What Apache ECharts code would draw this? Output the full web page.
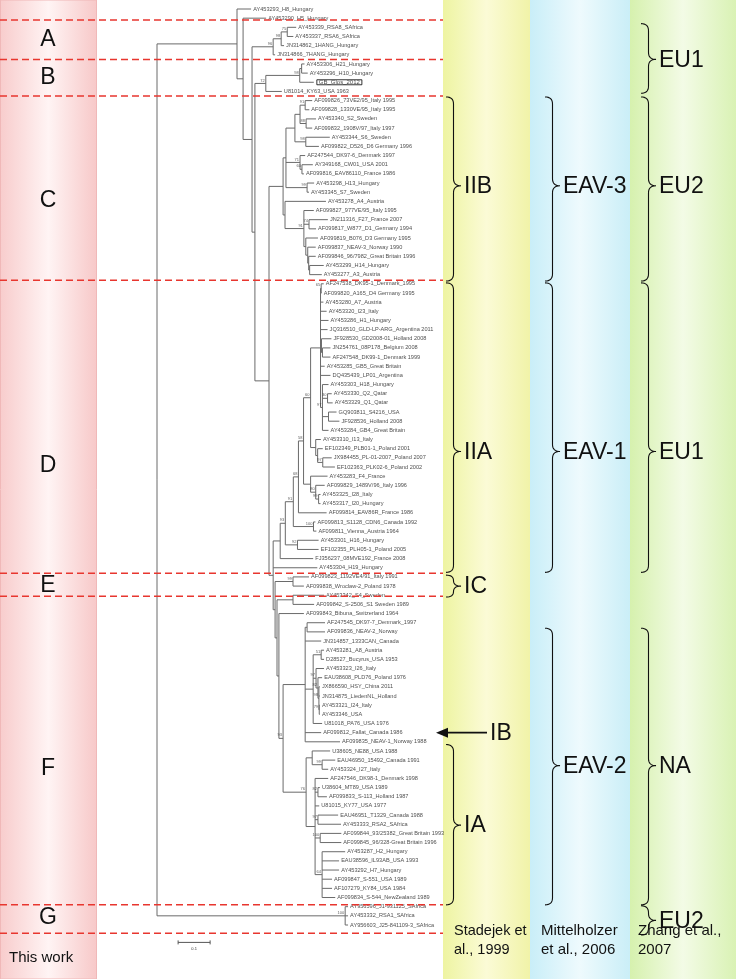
<!DOCTYPE html>
<html><head><meta charset="utf-8">
<script src="https://cdn.jsdelivr.net/npm/echarts@6/dist/echarts.min.js"></script>
<style>html,body{margin:0;padding:0;background:#fff}#c{width:736px;height:979px}</style>
</head><body><div id="c"></div>
<script>
// ---------------- DATA ----------------
// Tree (Newick, branch lengths in substitutions/site, internal labels = bootstrap)
const cladeG = "(AY956596_J1-931125_SAfrica:0.009,AY453332_RSA1_SAfrica:0.009,AY956603_J25-841109-3_SAfrica:0.009)100:0.588";
const cladeA = "(((AY453339_RSA8_SAfrica:0.028,AY453337_RSA6_SAfrica:0.019)75:0.019,JN314862_1HANG_Hungary:0.009)98:0.025,JN314866_7HANG_Hungary:0.006)96:0.066";
const cladeB = "(((AY453306_H21_Hungary:0.009,AY453296_H10_Hungary:0.019):0.006,GB_Glos_2012:0.044)98:0.106,U81014_KY63_USA 1963:0.050)72:0.034";
const cladeC1 = "((((AF099826_73VE2/95_Italy 1995:0.022,AF099828_1330VE/95_Italy 1995:0.013)91:0.016,(AY453340_S2_Sweden:0.031,AF099832_1908V/97_Italy 1997:0.019)88:0.019):0.016,(AY453344_S6_Sweden:0.075,AF099822_D526_D6 Germany 1996:0.041)98:0.034):0.028,(AF247544_DK97-6_Denmark 1997:0.016,(AY349168_CW01_USA 2001:0.034,AF099816_EAV86110_France 1986:0.006)60:0.006)71:0.044,(AY453298_H13_Hungary:0.022,AY453345_S7_Sweden:0.006)99:0.066):0.009";
const cladeC2 = "(AY453278_A4_Austria:0.128,(AF099827_977VE/95_Italy 1995:0.031,(JN211316_F27_France 2007:0.059,AF099817_W877_D1_Germany 1994:0.022)74:0.016,(AF099819_B076_D3 Germany 1995:0.038,(AF099837_NEAV-3_Norway 1990:0.025,(AF099846_96/7982_Great Britain 1996:0.022,(AY453299_H14_Hungary:0.044,AY453277_A3_Austria:0.038):0.003):0.003):0.006):0.006)91:0.059):0.006";
const cladeD5 = "((AF247538_DK95-1_Denmark_1995:0.008,AF099820_A165_D4 Germany 1995:0.002)65:0.002,AY453280_A7_Austria:0.009,AY453320_I23_Italy:0.019,AY453286_H1_Hungary:0.025,JQ316510_GLD-LP-ARG_Argentina 2011:0.022,(JF928530_GD2008-01_Holland 2008:0.031,(JN254761_08P178_Belgium 2008:0.025,AF247548_DK99-1_Denmark 1999:0.025):0.003):0.003,AY453285_GB5_Great Britain:0.013,DQ435439_LP01_Argentina:0.031,(AY453303_H18_Hungary:0.019,(AY453330_Q2_Qatar:0.013,AY453329_Q1_Qatar:0.016)30:0.016,(GQ903811_S4216_USA:0.025,JF928536_Holland 2008:0.034):0.019,AY453284_GB4_Great Britain:0.019)97:0.006):0.031";
const cladeD6 = "(AY453310_I13_Italy:0.016,(EF102349_PLB01-1_Poland 2001:0.016,(JX984455_PL-01-2007_Poland 2007:0.028,EF102363_PLK02-6_Poland 2002:0.038)97:0.016):0.006):0.016";
const cladeD7 = "(AY453283_F4_France:0.053,(AF099829_1489V/96_Italy 1996:0.028,(AY453325_I28_Italy:0.006,AY453317_I20_Hungary:0.006)99:0.009)80:0.016):0.022";
const cladeE = "(AF099823_1192VE4/91_Italy 1991:0.050,AF099838_Wroclaw-2_Poland 1978:0.034)99:0.056";
const cladeFe = "((AY453281_A8_Austria:0.009,D28527_Bucyrus_USA 1953:0.009)51:0.025,(AY453323_I26_Italy:0.025,(EAU38608_PLD76_Poland 1976:0.013,(JX866590_HSY_China 2011:0.003,JN314875_LiedenNL_Holland:0.003,(AY453321_I24_Italy:0.002,AY453346_USA:0.002)79:0.001)98:0.003)82:0.006)97:0.009,U81018_PA76_USA 1976:0.028):0.025";
const cladeFj = "(U38605_NE88_USA 1988:0.056,(EAU46950_15492_Canada 1991:0.041,AY453324_I27_Italy:0.019)99:0.031):0.019";
const cladeFl = "(AF247546_DK98-1_Denmark 1998:0.041,(U38604_MT89_USA 1989:0.006,AF099833_S-113_Holland 1987:0.028)82:0.009,U81015_KY77_USA 1977:0.013,(EAU46951_T1329_Canada 1988:0.063,AY453333_RSA2_SAfrica:0.072)97:0.009,(AF099844_93/25382_Great Britain 1993:0.066,AF099845_96/328-Great Britain 1996:0.066)100:0.016,(AY453287_H2_Hungary:0.072,EAU38596_IL93AB_USA 1993:0.053,AY453292_H7_Hungary:0.053,AF099847_S-551_USA 1989:0.031,AF107279_KY84_USA 1984:0.031,AF099834_S-544_NewZealand 1989:0.041)64:0.022):0.028";

const boxedLeaf = "GB_Glos_2012";
const arrowLeaf = "AF099812_Fallat_Canada 1986";

// Group separators / labels (positions in leaf-row units)
const separatorRows = [1.2, 5.5, 9.5, 29.6, 61.6, 64.1, 97.8, 100.9];
const groupLetters = ['A', 'B', 'C', 'D', 'E', 'F', 'G'];
const groupLetterRows = [3.4, 7.5, 20.9, 49.9, 63.0, 82.9, 99.2];

// Previous classifications: [startRow, endRow, tipRow]
const stadejekLabels = ['IIB', 'IIA', 'IC', 'IA'];
const stadejekSpans = [[9.6, 29.7, 19.3], [29.9, 61.5, 48.3], [61.8, 64.2, 63.0], [80.3, 97.8, 89.1]];
const mittelholzerLabels = ['EAV-3', 'EAV-1', 'EAV-2'];
const mittelholzerSpans = [[9.6, 29.7, 19.3], [29.9, 61.5, 48.3], [67.6, 97.8, 82.6]];
const zhangLabels = ['EU1', 'EU2', 'EU1', 'NA', 'EU2'];
const zhangSpans = [[1.6, 9.2, 5.5], [9.6, 29.7, 19.3], [29.9, 61.5, 48.3], [67.6, 97.8, 82.6], [97.9, 101.1, 99.5]];
const arrowLabel = 'IB';
const scaleBarLength = 0.1;
const scaleBarLabel = '0.1';

// ---------------- BUILD ----------------
const treeNewick = "((AY453293_H8_Hungary:0.044,(AY453290_H5_Hungary:0.072,(" + cladeA + ",(" + cladeB + ",((" + cladeC1 + "," + cladeC2 + "):0.044,(" +
  "((((((" + cladeD5 + "," + cladeD6 + ")60:0.022," + cladeD7 + ")58:0.016,AF099814_EAV86R_France 1986:0.088)68:0.016,(AF099813_S1128_CDN6_Canada 1992:0.006,AF099811_Vienna_Austria 1964:0.009)100:0.063)91:0.025,(AY453301_H16_Hungary:0.066,EF102355_PLH05-1_Poland 2005:0.066)92:0.038)93:0.016,FJ356237_08MVE192_France 2008:0.103):0.022" +
  ",AY453304_H19_Hungary:0.138,(" + cladeE + ",((AY453342_S4_Sweden:0.097,AF099842_S-2506_S1 Sweden 1989:0.066):0.050,(AF099843_Bibuna_Switzerland 1964:0.078,(" +
  "((AF247545_DK97-7_Denmark_1997:0.056,AF099836_NEAV-2_Norway:0.056):0.006,JN314857_1333CAN_Canada:0.050," + cladeFe + ",AF099812_Fallat_Canada 1986:0.050,AF099835_NEAV-1_Norway 1988:0.109):0.069" +
  ",(" + cladeFj + "," + cladeFl + ")76:0.072)93:0.013):0.006):0.006):0.006):0.013):0.044):0.009):0.028):0.019):0.250," + cladeG + ");";

function parseNewick(s) {
  let i = 0;
  function node() {
    const n = { children: [], name: '', len: 0 };
    if (s[i] === '(') {
      i++;
      n.children.push(node());
      while (s[i] === ',') { i++; n.children.push(node()); }
      i++; // ')'
    }
    let name = '';
    while (i < s.length && ',):;'.indexOf(s[i]) < 0) name += s[i++];
    n.name = name.trim();
    if (s[i] === ':') {
      i++; let num = '';
      while (i < s.length && ',);'.indexOf(s[i]) < 0) num += s[i++];
      n.len = parseFloat(num);
    }
    return n;
  }
  return node();
}
const root = parseNewick(treeNewick);
const leaves = [], internals = [], segments = [];
let leafCounter = 0;
(function layout(n, px) {
  n.x = px + n.len;
  if (!n.children.length) { n.y = leafCounter++; leaves.push(n); }
  else {
    n.children.forEach(c => layout(c, n.x));
    n.y = (n.children[0].y + n.children[n.children.length - 1].y) / 2;
    internals.push(n);
    segments.push([n.x, n.children[0].y, n.x, n.children[n.children.length - 1].y]);
  }
  if (n !== root) segments.push([px, n.y, n.x, n.y]);
})(root, 0);

// ---------------- LAYOUT CONSTANTS ----------------
const W = 736, H = 979;
const PX_ROOT = 157, PX_PER_UNIT = 320, ROW_TOP = 9, ROW_BOTTOM = 925;
const FONT = "'Liberation Sans', Arial, sans-serif";
const SEP_RIGHT = 443;

function bracePoints(x0, w, y1, y2, yt) {
  const pts = [];
  const xm = x0 + w / 2;
  const r = Math.min(7, Math.abs(yt - y1) / 2, Math.abs(y2 - yt) / 2);
  function quad(p0, p1, p2) {
    for (let k = 0; k <= 8; k++) {
      const t = k / 8;
      pts.push([(1 - t) * (1 - t) * p0[0] + 2 * (1 - t) * t * p1[0] + t * t * p2[0],
                (1 - t) * (1 - t) * p0[1] + 2 * (1 - t) * t * p1[1] + t * t * p2[1]]);
    }
  }
  quad([x0, y1], [xm, y1], [xm, y1 + r]);
  pts.push([xm, yt - r]);
  quad([xm, yt - r], [xm, yt], [x0 + w, yt]);
  quad([x0 + w, yt], [xm, yt], [xm, yt + r]);
  pts.push([xm, y2 - r]);
  quad([xm, y2 - r], [xm, y2], [x0, y2]);
  return pts;
}

function braceSeries(spans, labels, x0, fontSize) {
  return {
    type: 'custom', silent: true, z: 5,
    data: spans.map((s, k) => [0, s[0], s[1], s[2], k]),
    encode: { x: 0, y: [1, 2] },
    renderItem: function (params, api) {
      const y1 = api.coord([0, api.value(1)])[1];
      const y2 = api.coord([0, api.value(2)])[1];
      const yt = api.coord([0, api.value(3)])[1];
      const lab = labels[api.value(4)];
      return {
        type: 'group', children: [
          { type: 'polyline', shape: { points: bracePoints(x0, 15, y1, y2, yt) }, style: { stroke: '#111', lineWidth: 1.1, fill: null } },
          { type: 'text', style: { text: lab, x: x0 + 18, y: yt + 1, font: fontSize + 'px ' + FONT, fill: '#111', textAlign: 'left', textVerticalAlign: 'middle', align: 'left', verticalAlign: 'middle' } }
        ]
      };
    }
  };
}

const arrowRow = leaves.find(l => l.name === arrowLeaf).y;

const option = {
  animation: false,
  backgroundColor: '#fff',
  grid: { left: 0, right: 0, top: ROW_TOP, bottom: H - ROW_BOTTOM },
  xAxis: { type: 'value', min: -PX_ROOT / PX_PER_UNIT, max: (W - PX_ROOT) / PX_PER_UNIT, show: false },
  yAxis: { type: 'value', min: 0, max: 100, inverse: true, show: false },
  graphic: [
    { type: 'rect', z: -10, shape: { x: 0.5, y: 0, width: 96, height: 979 },
      style: { fill: new echarts.graphic.LinearGradient(0, 0, 1, 0, [{ offset: 0, color: '#f8cccc' }, { offset: 0.5, color: '#fff4f4' }, { offset: 1, color: '#f7c8c8' }]), stroke: '#f0b8b8', lineWidth: 1 } },
    { type: 'rect', z: -10, shape: { x: 443, y: 0, width: 87, height: 979 },
      style: { fill: new echarts.graphic.LinearGradient(0, 0, 1, 0, [{ offset: 0, color: '#eef4a2' }, { offset: 0.5, color: '#fbfbd6' }, { offset: 1, color: '#f1f3a8' }]) } },
    { type: 'rect', z: -10, shape: { x: 530, y: 0, width: 100, height: 979 },
      style: { fill: new echarts.graphic.LinearGradient(0, 0, 1, 0, [{ offset: 0, color: '#c9eef8' }, { offset: 0.5, color: '#eefafd' }, { offset: 1, color: '#caeef7' }]) } },
    { type: 'rect', z: -10, shape: { x: 630, y: 0, width: 106, height: 979 },
      style: { fill: new echarts.graphic.LinearGradient(0, 0, 1, 0, [{ offset: 0, color: '#d6f1ae' }, { offset: 0.5, color: '#f3fbe6' }, { offset: 1, color: '#d9f2b4' }]) } },
    { type: 'text', z: 10, style: { text: 'This work', x: 9, y: 958, font: '15px ' + FONT, fill: '#111', textVerticalAlign: 'middle', verticalAlign: 'middle' } },
    { type: 'text', z: 10, style: { text: 'Stadejek et\nal., 1999', x: 454, y: 940, font: '14.5px ' + FONT, lineHeight: 19, fill: '#111', textVerticalAlign: 'middle', verticalAlign: 'middle' } },
    { type: 'text', z: 10, style: { text: 'Mittelholzer\net al., 2006', x: 541, y: 940, font: '15px ' + FONT, lineHeight: 19, fill: '#111', textVerticalAlign: 'middle', verticalAlign: 'middle' } },
    { type: 'text', z: 10, style: { text: 'Zhang et al.,\n2007', x: 638, y: 940, font: '15px ' + FONT, lineHeight: 19, fill: '#111', textVerticalAlign: 'middle', verticalAlign: 'middle' } }
  ],
  series: [
    { // branches
      type: 'custom', silent: true, z: 3,
      data: segments, encode: { x: [0, 2], y: [1, 3] },
      renderItem: function (params, api) {
        const p1 = api.coord([api.value(0), api.value(1)]);
        const p2 = api.coord([api.value(2), api.value(3)]);
        return { type: 'line', shape: { x1: p1[0], y1: p1[1], x2: p2[0], y2: p2[1] }, style: { stroke: '#6a6a6a', lineWidth: 1 } };
      }
    },
    { // leaf labels
      type: 'scatter', silent: true, z: 4, symbolSize: 0.1, itemStyle: { color: 'rgba(0,0,0,0)' },
      data: leaves.map(l => {
        const d = { name: l.name, value: [l.x, l.y] };
        if (l.name === boxedLeaf) d.label = { borderColor: '#000', borderWidth: 1, padding: [0, 2, -1, 2], fontSize: 6, distance: 3 };
        return d;
      }),
      label: { show: true, position: 'right', distance: 2, formatter: '{b}', fontSize: 5.6, fontFamily: FONT, color: '#222' }
    },
    { // bootstrap values
      type: 'scatter', silent: true, z: 4, symbolSize: 0.1, itemStyle: { color: 'rgba(0,0,0,0)' },
      data: internals.filter(n => n.name).map(n => ({ name: n.name, value: [n.x, n.y] })),
      label: { show: true, position: 'left', distance: 1, offset: [0, -3], formatter: '{b}', fontSize: 4, fontFamily: FONT, color: '#333' }
    },
    { // group separators
      type: 'custom', silent: true, z: 6,
      data: separatorRows.map(r => [0, r]), encode: { x: 0, y: 1 },
      renderItem: function (params, api) {
        const y = api.coord([0, api.value(1)])[1];
        return { type: 'line', shape: { x1: 0, y1: y, x2: SEP_RIGHT, y2: y }, style: { stroke: '#e8362f', lineWidth: 1.5, lineDash: [7, 4] } };
      }
    },
    { // group letters
      type: 'custom', silent: true, z: 6,
      data: groupLetterRows.map((r, k) => [0, r, k]), encode: { x: 0, y: 1 },
      renderItem: function (params, api) {
        const y = api.coord([0, api.value(1)])[1];
        return { type: 'text', style: { text: groupLetters[api.value(2)], x: 48, y: y, font: '23px ' + FONT, fill: '#111', textAlign: 'center', textVerticalAlign: 'middle', align: 'center', verticalAlign: 'middle' } };
      }
    },
    braceSeries(stadejekSpans, stadejekLabels, 446, 23),
    braceSeries(mittelholzerSpans, mittelholzerLabels, 545, 23),
    braceSeries(zhangSpans, zhangLabels, 641, 23),
    { // arrow to Fallat
      type: 'custom', silent: true, z: 6,
      data: [[0, arrowRow]], encode: { x: 0, y: 1 },
      renderItem: function (params, api) {
        const y = api.coord([0, api.value(1)])[1];
        return { type: 'group', children: [
          { type: 'line', shape: { x1: 446, y1: y, x2: 487, y2: y }, style: { stroke: '#111', lineWidth: 1.6 } },
          { type: 'polygon', shape: { points: [[436, y], [448, y - 5], [448, y + 5]] }, style: { fill: '#111' } },
          { type: 'text', style: { text: arrowLabel, x: 490, y: y + 1, font: '23px ' + FONT, fill: '#111', textVerticalAlign: 'middle', verticalAlign: 'middle' } }
        ] };
      }
    },
    { // scale bar
      type: 'custom', silent: true, z: 6,
      data: [[0.066, 101.9]], encode: { x: 0, y: 1 },
      renderItem: function (params, api) {
        const p1 = api.coord([api.value(0), api.value(1)]);
        const p2 = api.coord([api.value(0) + scaleBarLength, api.value(1)]);
        return { type: 'group', children: [
          { type: 'line', shape: { x1: p1[0], y1: p1[1], x2: p2[0], y2: p2[1] }, style: { stroke: '#555', lineWidth: 1 } },
          { type: 'line', shape: { x1: p1[0], y1: p1[1] - 2, x2: p1[0], y2: p1[1] + 2 }, style: { stroke: '#555', lineWidth: 1 } },
          { type: 'line', shape: { x1: p2[0], y1: p2[1] - 2, x2: p2[0], y2: p2[1] + 2 }, style: { stroke: '#555', lineWidth: 1 } },
          { type: 'text', style: { text: scaleBarLabel, x: (p1[0] + p2[0]) / 2, y: p1[1] + 6, font: '4px ' + FONT, fill: '#333', textAlign: 'center', align: 'center', textVerticalAlign: 'middle', verticalAlign: 'middle' } }
        ] };
      }
    }
  ]
};
const chart = echarts.init(document.getElementById('c'), null, { renderer: 'canvas', width: W, height: H });
chart.setOption(option);
</script></body></html>
